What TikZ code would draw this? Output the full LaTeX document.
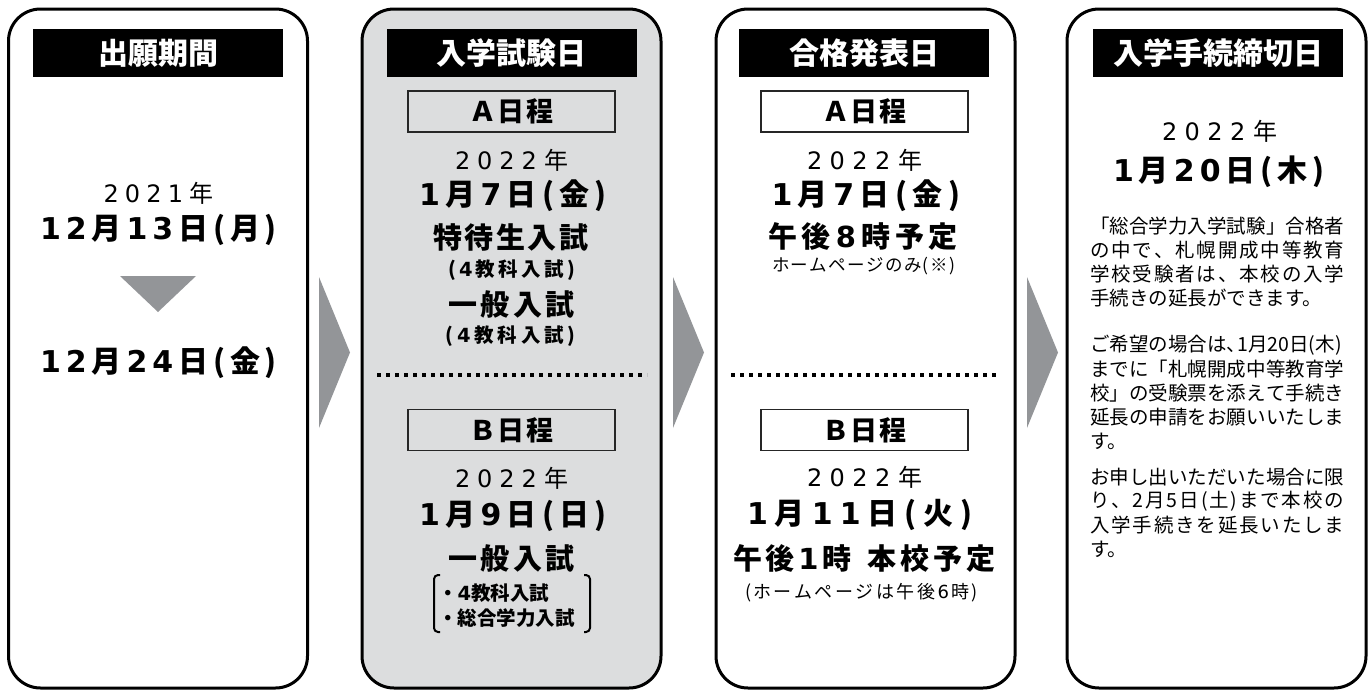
\documentclass[tikz,border=0pt]{standalone}
\usepackage{fontspec}
\setmainfont{Noto Sans CJK JP}
\newfontfamily\dgf{DejaVu Sans}
\definecolor{boxgray}{HTML}{DCDDDE}
\definecolor{arrowgray}{HTML}{939598}
\makeatletter
% spread the characters of #2 evenly over width #1; digits set in \dgf
\def\spreadto#1#2{\hbox to #1{\sp@first#2\sp@stop}}
\def\sp@first#1{\sp@char#1\sp@rest}
\def\sp@rest#1{\ifx\sp@stop#1\else\hfil\sp@char#1\expandafter\sp@rest\fi}
\def\sp@char#1{\ifcat0\noexpand#1\ifnum`#1>47 \ifnum`#1<58 {\dgf#1}\else#1\fi\else#1\fi\else#1\fi}
\def\sp@stop{}
\makeatother
\def\jlsp{\hspace{9pt}}
\begin{document}
\begin{tikzpicture}[x=1pt,y=-1pt,
  colbox/.style={draw=black, line width=3pt, rounded corners=32pt, minimum width=299pt, minimum height=679pt, inner sep=0pt},
  headbox/.style={fill=black, text=white, minimum width=250pt, minimum height=48pt, inner sep=0pt, font=\fontsize{30}{30}\selectfont\bfseries},
  schedbox/.style={draw=black!85, line width=1.4pt, minimum width=207pt, minimum height=41pt, inner sep=0pt, font=\fontsize{27}{27}\selectfont\bfseries},
  yeartxt/.style={inner sep=0pt, font=\fontsize{24}{24}\selectfont},
  datetxt/.style={inner sep=0pt, font=\fontsize{30}{30}\selectfont\bfseries},
  bigtxt/.style={inner sep=0pt, font=\fontsize{29}{29}\selectfont\bfseries},
  subtxt/.style={inner sep=0pt, font=\fontsize{19.5}{19.5}\selectfont\bfseries},
  notetxt/.style={inner sep=0pt, font=\fontsize{17.5}{17.5}\selectfont},
  paratxt/.style={inner sep=0pt, anchor=west, font=\fontsize{19.5}{19.5}\selectfont\let\dgf\relax},
  dotline/.style={line width=3.5pt, dash pattern=on 3.5pt off 5.5pt},
  chevron/.style={fill=arrowgray},
  bracket/.style={line width=2pt, rounded corners=4pt}
]
\useasboundingbox (0,0) rectangle (1371,691);

% ---------- column 1 ----------
\node[colbox] (b1) at (158,348.5) {};
\node[headbox] (h1) at (158,53) {出願期間};
\node[yeartxt] (y1) at (158.5,193) {\spreadto{110pt}{2021年}};
\node[datetxt] (d1) at (158.5,230) {\spreadto{237pt}{12月13日(月)}};
\fill[chevron] (120,276) -- (196,276) -- (158,312) -- cycle;
\node[datetxt] (d2) at (158.5,363) {\spreadto{237pt}{12月24日(金)}};

% ---------- column 2 ----------
\node[colbox, fill=boxgray] (b2) at (511.5,348.5) {};
\node[headbox] (h2) at (511.5,53) {入学試験日};
\node[schedbox, fill=boxgray] (a2) at (511.5,111.5) {\spreadto{84pt}{Ａ日程}};
\node[yeartxt] (y2a) at (511.5,160) {\spreadto{113pt}{2022年}};
\node[datetxt] (d2a) at (513,196) {\spreadto{188pt}{1月7日(金)}};
\node[bigtxt] (t2a) at (511,237) {\spreadto{155pt}{特待生入試}};
\node[subtxt] (s2a) at (511.5,270) {\spreadto{127pt}{(4教科入試)}};
\node[bigtxt] (g2a) at (511.5,304) {\spreadto{127pt}{一般入試}};
\node[subtxt] (s2b) at (510.5,336) {\spreadto{130pt}{(4教科入試)}};
\draw[dotline] (377,375) -- (647,375);
\node[schedbox, fill=boxgray] (bb2) at (511.5,430) {\spreadto{84pt}{Ｂ日程}};
\node[yeartxt] (y2b) at (511.5,478) {\spreadto{113pt}{2022年}};
\node[datetxt] (d2b) at (513,516) {\spreadto{188pt}{1月9日(日)}};
\node[bigtxt] (g2b) at (511.5,558) {\spreadto{127pt}{一般入試}};
\node[subtxt, anchor=west] (i1) at (438,593) {・{\dgf 4}教科入試};
\node[subtxt, anchor=west] (i2) at (438,618) {・総合学力入試};
\draw[bracket] (440,575) -- (434,575) -- (434,632) -- (440,632);
\draw[bracket] (584,575) -- (590,575) -- (590,632) -- (584,632);

% ---------- column 3 ----------
\node[colbox] (b3) at (865.5,348.5) {};
\node[headbox] (h3) at (864,53) {合格発表日};
\node[schedbox] (a3) at (864.5,111.5) {\spreadto{84pt}{Ａ日程}};
\node[yeartxt] (y3a) at (864.5,160) {\spreadto{115pt}{2022年}};
\node[datetxt] (d3a) at (866,196) {\spreadto{189pt}{1月7日(金)}};
\node[bigtxt] (t3a) at (863,236) {\spreadto{190pt}{午後8時予定}};
\node[notetxt] (n3a) at (863.5,266) {\spreadto{183pt}{ホームページのみ(※)}};
\draw[dotline] (731,375) -- (1000,375);
\node[schedbox] (bb3) at (864.5,430) {\spreadto{84pt}{Ｂ日程}};
\node[yeartxt] (y3b) at (864.5,477) {\spreadto{115pt}{2022年}};
\node[datetxt] (d3b) at (860,515) {\spreadto{226pt}{1月11日(火)}};
\node[bigtxt] (t3b) at (864,558) {\spreadto{262pt}{午後1時\jlsp 本校予定}};
\node[notetxt, font=\fontsize{18}{18}\selectfont] (n3b) at (861.5,593) {\spreadto{233pt}{(ホームページは午後6時)}};

% ---------- column 4 ----------
\node[colbox] (b4) at (1216.5,348.5) {};
\node[headbox] (h4) at (1218,53) {入学手続締切日};
\node[yeartxt] (y4) at (1219.5,131) {\spreadto{115pt}{2022年}};
\node[datetxt] (d4) at (1219,172) {\spreadto{212pt}{1月20日(木)}};
\node[paratxt] (p1) at (1090,226) {\spreadto{254pt}{「総合学力入学試験」合格者}};
\node[paratxt] (p2) at (1090,250) {\spreadto{254pt}{の中で、札幌開成中等教育}};
\node[paratxt] (p3) at (1090,274) {\spreadto{254pt}{学校受験者は、本校の入学}};
\node[paratxt] (p4) at (1090,298) {手続きの延長ができます。};
\node[paratxt] (p5) at (1090,345) {ご希望の場合は、\kern-0.45em1月20日(木)};
\node[paratxt] (p6) at (1090,369) {\spreadto{254pt}{までに「札幌開成中等教育学}};
\node[paratxt] (p7) at (1090,393) {\spreadto{254pt}{校」の受験票を添えて手続き}};
\node[paratxt] (p8) at (1090,417) {\spreadto{254pt}{延長の申請をお願いいたしま}};
\node[paratxt] (p9) at (1090,441) {す。};
\node[paratxt] (p10) at (1090,477) {\spreadto{254pt}{お申し出いただいた場合に限}};
\node[paratxt] (p11) at (1090,501) {\spreadto{254pt}{り、2月5日(土)まで本校の}};
\node[paratxt] (p12) at (1090,525) {\spreadto{254pt}{入学手続きを延長いたしま}};
\node[paratxt] (p13) at (1090,549) {す。};

% ---------- chevrons between columns ----------
\fill[chevron] (319,277) -- (350,352.5) -- (319,428) -- cycle;
\fill[chevron] (673,277) -- (704,352.5) -- (673,428) -- cycle;
\fill[chevron] (1027,277) -- (1058,352.5) -- (1027,428) -- cycle;
\end{tikzpicture}
\end{document}
